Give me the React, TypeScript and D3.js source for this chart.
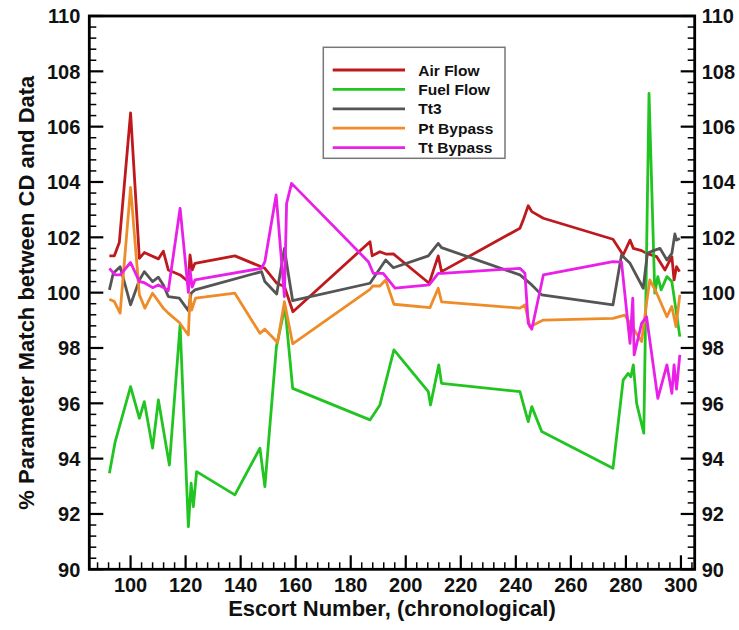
import React from "react";
import * as d3 from "d3";

const seriesNames = ["Air Flow", "Fuel Flow", "Tt3", "Pt Bypass", "Tt Bypass"];
const seriesColors = ["#be1a1e", "#22c422", "#555555", "#ef8c2a", "#e820e8"];

const airX = [92.3, 94.1, 95.9, 100, 103.2, 105, 110.1, 111.9, 113.7, 118, 121, 121.6, 122.4, 123.4, 137.9, 148.8, 153.1, 155.9, 159, 187, 187.8, 190.6, 193, 195.5, 208.5, 211.8, 213, 241.5, 242.7, 244.5, 245.8, 250, 275.3, 279, 281.5, 282.7, 285.7, 287.5, 291.2, 294.2, 296.7, 297.5, 298.4, 299.5];
const airY = [101.33, 101.33, 101.81, 106.5, 101.24, 101.45, 101.22, 101.5, 100.82, 100.64, 100.4, 101.36, 100.82, 101.06, 101.33, 100.88, 100.34, 100.22, 99.31, 101.84, 101.33, 101.48, 101.39, 101.4, 100.34, 101.33, 100.76, 102.33, 102.63, 103.14, 102.93, 102.69, 101.93, 101.36, 101.9, 101.6, 101.52, 101.42, 101.3, 100.82, 101.3, 100.46, 100.94, 100.76];

const fuelX = [92.3, 94.4, 100, 103.2, 105, 108, 110.1, 114.1, 118, 121, 122, 122.8, 124, 137.9, 147, 148.8, 153, 156.1, 158.9, 187, 190.6, 195.7, 208.2, 209, 212, 213, 241.5, 243.3, 244.5, 245.8, 249.4, 275.3, 279, 280.8, 281.8, 282.7, 283.9, 286.5, 288.4, 290.5, 291.6, 292.8, 294.9, 296.7, 299.6];
const fuelY = [93.47, 94.61, 96.6, 95.46, 96.06, 94.38, 96.12, 93.77, 98.83, 91.54, 93.11, 92.27, 93.53, 92.69, 94.38, 92.99, 98.05, 99.49, 96.54, 95.4, 95.94, 97.93, 96.42, 95.94, 97.39, 96.72, 96.42, 95.76, 95.34, 95.88, 94.98, 93.65, 96.84, 97.08, 96.96, 97.39, 96.0, 94.92, 107.2, 99.98, 100.58, 100.1, 100.58, 100.4, 98.41];

const tt3X = [92.3, 93.7, 96.2, 100, 103.2, 105, 108, 110.1, 111.9, 113.7, 117.7, 121, 122, 123.4, 147.6, 148.8, 153.1, 155.9, 157.1, 158.9, 187, 192.7, 195.5, 208.2, 211.8, 213, 241.5, 245.8, 249.4, 275.3, 278.4, 281.5, 286.3, 287.8, 290, 292.4, 294.9, 296.7, 297.8, 298.4, 299.6];
const tt3Y = [100.1, 100.7, 100.94, 99.56, 100.46, 100.76, 100.4, 100.56, 100.28, 99.86, 99.8, 99.35, 99.98, 100.1, 100.76, 100.4, 99.95, 101.6, 100.82, 99.71, 100.34, 101.18, 100.9, 101.33, 101.78, 101.63, 100.64, 100.28, 99.92, 99.56, 101.36, 101.06, 100.16, 101.42, 101.52, 101.6, 101.18, 101.42, 102.12, 101.9, 101.96];

const ptX = [92.3, 94.1, 96.2, 100, 103.2, 105.2, 108, 111.9, 113.7, 117.7, 121, 121.6, 122.2, 123.6, 137.9, 147, 148.8, 153.4, 155.9, 158.9, 187, 188, 190.6, 192.7, 195.7, 208.8, 211.8, 213, 241.5, 243.3, 245.1, 250, 275.3, 279.6, 285.7, 287.5, 288.7, 291.2, 294.9, 296.7, 298.2, 299.6];
const ptY = [99.76, 99.68, 99.26, 103.8, 99.92, 99.44, 99.98, 99.44, 99.26, 98.92, 98.47, 99.92, 99.37, 99.8, 99.98, 98.53, 98.68, 98.2, 99.67, 98.15, 100.12, 100.24, 100.24, 100.46, 99.58, 99.46, 100.16, 99.67, 99.44, 99.56, 98.77, 99.01, 99.07, 99.19, 98.23, 99.62, 100.46, 99.98, 99.13, 99.5, 98.77, 99.92];

const ttX = [92.3, 94.4, 96.2, 100, 103.2, 105, 108, 110.1, 111.9, 113.7, 118, 121, 121.6, 122.4, 123.4, 147.6, 148.8, 152.9, 155.9, 156.7, 158.5, 186.4, 188.2, 191.8, 196.1, 208.5, 211.8, 213.3, 241.5, 243.3, 244.5, 245.8, 250, 275.3, 278.4, 281.5, 282.5, 283, 285.7, 287.5, 291.6, 294.9, 296.7, 297.5, 298.4, 299.6];
const ttY = [100.88, 100.64, 100.64, 101.09, 100.4, 100.36, 100.18, 100.28, 100.19, 100.07, 103.05, 100.01, 100.82, 100.2, 100.46, 100.88, 101.12, 103.53, 99.86, 103.23, 103.95, 101.12, 100.7, 100.7, 100.16, 100.28, 100.7, 100.7, 100.88, 100.7, 98.89, 98.68, 100.64, 101.12, 101.1, 98.17, 99.8, 97.75, 98.89, 99.13, 96.18, 97.39, 96.36, 97.39, 96.51, 97.75];

const xMajorTicks = [100, 120, 140, 160, 180, 200, 220, 240, 260, 280, 300];
const yMajorTicks = [90, 92, 94, 96, 98, 100, 102, 104, 106, 108, 110];

const xTitle = "Escort Number, (chronological)";
const yTitle = "% Parameter Match between CD and Data";

const FONT = "'Liberation Sans', Arial, Helvetica, sans-serif";

export default function App() {
  const W = 739, H = 630;
  const left = 89.3, right = 694.7, top = 16, bottom = 569.3;
  const x = d3.scaleLinear().domain([85, 305]).range([left, right]);
  const y = d3.scaleLinear().domain([90, 110]).range([bottom, top]);

  const series = [
    { xs: airX, ys: airY },
    { xs: fuelX, ys: fuelY },
    { xs: tt3X, ys: tt3Y },
    { xs: ptX, ys: ptY },
    { xs: ttX, ys: ttY },
  ];
  const line = d3.line<[number, number]>().x(d => x(d[0])).y(d => y(d[1]));

  const xMinor = d3.range(88, 305, 4).filter(v => !xMajorTicks.includes(v));
  const yMinor = d3.range(0, 51).map(i => +(90 + i * 0.4).toFixed(1)).filter(v => Math.abs(v / 2 - Math.round(v / 2)) > 1e-6);

  const legX = 323.3, legY = 47.3, legW = 181.7, legH = 111;
  const rowH = 19.4;

  return (
    <svg width={W} height={H} style={{ position: "absolute", left: 0, top: 0, background: "#fff" }} fontFamily={FONT}>
      <rect x={0} y={0} width={W} height={H} fill="#fff" />
      {/* series */}
      {series.map((s, i) => (
        <path
          key={i}
          d={line(s.xs.map((v, j) => [v, s.ys[j]] as [number, number])) || ""}
          fill="none"
          stroke={seriesColors[i]}
          strokeWidth={2.8}
          strokeLinejoin="round"
        />
      ))}
      {/* ticks */}
      {xMinor.map(v => (
        <line key={"xm" + v} x1={x(v)} x2={x(v)} y1={bottom} y2={bottom - 7} stroke="#000" strokeWidth={1.5} />
      ))}
      {xMajorTicks.map(v => (
        <line key={"xM" + v} x1={x(v)} x2={x(v)} y1={bottom} y2={bottom - 14} stroke="#000" strokeWidth={2.2} />
      ))}
      {yMinor.map(v => (
        <g key={"ym" + v}>
          <line x1={left} x2={left + 7} y1={y(v)} y2={y(v)} stroke="#000" strokeWidth={1.5} />
          <line x1={right} x2={right - 7} y1={y(v)} y2={y(v)} stroke="#000" strokeWidth={1.5} />
        </g>
      ))}
      {yMajorTicks.map(v => (
        <g key={"yM" + v}>
          <line x1={left} x2={left + 14} y1={y(v)} y2={y(v)} stroke="#000" strokeWidth={2.2} />
          <line x1={right} x2={right - 14} y1={y(v)} y2={y(v)} stroke="#000" strokeWidth={2.2} />
        </g>
      ))}
      {/* frame */}
      <rect x={left} y={top} width={right - left} height={bottom - top} fill="none" stroke="#000" strokeWidth={2.8} />
      {/* tick labels */}
      {xMajorTicks.map(v => (
        <text key={"xl" + v} x={x(v)} y={bottom + 22.5} textAnchor="middle" fontSize={20} fontWeight="bold" fill="#111">{v}</text>
      ))}
      {yMajorTicks.map(v => (
        <g key={"yl" + v}>
          <text x={left - 9} y={y(v) + 7.2} textAnchor="end" fontSize={20} fontWeight="bold" fill="#111">{v}</text>
          <text x={right + 7} y={y(v) + 7.2} textAnchor="start" fontSize={20} fontWeight="bold" fill="#111">{v}</text>
        </g>
      ))}
      {/* axis titles */}
      <text x={(left + right) / 2} y={616} textAnchor="middle" fontSize={22} fontWeight="bold" fill="#111">{xTitle}</text>
      <text transform={`translate(34,${(top + bottom) / 2}) rotate(-90)`} textAnchor="middle" fontSize={22} fontWeight="bold" fill="#111">{yTitle}</text>
      {/* legend */}
      <rect x={legX} y={legY} width={legW} height={legH} fill="#fff" stroke="#777" strokeWidth={1.5} />
      {seriesNames.map((n, i) => (
        <g key={n}>
          <line x1={332.7} x2={405} y1={70 + i * rowH} y2={70 + i * rowH} stroke={seriesColors[i]} strokeWidth={2.8} />
          <text x={418.3} y={70 + i * rowH + 5.5} fontSize={15.5} fontWeight="bold" fill="#111">{n}</text>
        </g>
      ))}
    </svg>
  );
}
